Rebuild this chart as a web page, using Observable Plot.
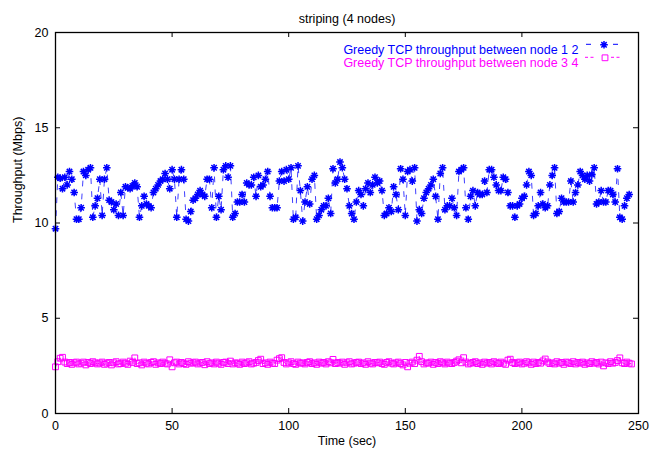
<!DOCTYPE html>
<html>
<head>
<meta charset="utf-8">
<script src="https://cdn.jsdelivr.net/npm/d3@7"></script>
<script src="https://cdn.jsdelivr.net/npm/@observablehq/plot@0.6"></script>
<style>
  html, body { margin: 0; padding: 0; background: #fff; }
  svg { display: block; }
</style>
</head>
<body>
<div id="chart"></div>
<script>
// ---- data ----
const title = "striping (4 nodes)";
const xLabel = "Time (sec)";
const yLabel = "Throughput (Mbps)";
const seriesNames = ["Greedy TCP throughput between node 1 2", "Greedy TCP throughput between node 3 4"];
const seriesColors = ["#0000ff", "#ff00ff"];
const xTicks = [0, 50, 100, 150, 200, 250];
const yTicks = [0, 5, 10, 15, 20];
const sampleInterval = 1; // seconds between samples

const flow12 = [
  9.7, 12.4, 12.35, 11.8, 12.4, 12.0, 12.7, 12.3, 11.6, 10.2,
  10.2, 10.8, 12.7, 12.5, 12.8, 12.9, 10.3, 10.9, 11.3, 12.3,
  10.4, 12.3, 12.9, 11.2, 11.1, 10.7, 11.0, 10.4, 11.6, 10.4,
  11.9, 11.85, 11.8, 11.95, 12.1, 11.9, 10.3, 10.9, 11.4, 11.0,
  10.9, 10.8, 11.6, 11.8, 12.0, 12.2, 12.3, 12.6, 12.3, 11.8,
  12.8, 12.3, 10.3, 12.3, 12.8, 12.3, 10.2, 10.1, 10.6, 11.2,
  11.3, 11.5,
  11.7, 11.5, 11.4, 12.3, 12.3, 10.8, 12.9, 10.3, 11.4, 10.7,
  12.8, 13.0, 12.4, 13.0, 10.3, 10.5, 11.1, 11.1, 11.5, 11.1,
  12.1, 12.0, 12.0, 12.4, 11.4, 12.5, 11.9, 12.0, 12.3, 12.7,
  11.4, 10.8, 10.8, 10.8, 12.2, 12.7, 12.2, 12.8, 12.3, 12.9,
  10.2, 10.3, 13.0, 11.7, 10.1, 11.1, 11.9, 11.0, 12.3, 12.5,
  10.2, 10.4, 10.7, 10.9, 10.9, 11.3, 10.5, 12.85, 12.1, 12.3, 13.2,
  12.9,
  12.3, 11.8, 10.9, 10.5, 10.2, 11.1, 11.7, 11.5, 10.9, 11.8,
  12.1, 11.6, 12.0, 12.4, 12.1, 12.2, 11.7, 10.4, 10.5, 10.8,
  10.6, 11.9, 11.5, 10.7, 12.85, 12.3, 10.4, 12.7, 12.8, 12.2,
  12.9, 10.1, 10.7, 10.5, 11.3, 11.6, 11.8, 12.0, 12.3, 11.4,
  10.2, 12.6, 12.9, 10.7, 10.9, 10.9, 11.3, 10.8, 10.4, 12.7,
  12.8, 12.9, 10.8, 10.2, 11.4, 11.7, 10.9, 11.6, 11.5, 11.5,
  12.2, 11.6, 12.8,
  12.8, 12.4, 12.0, 11.7, 11.7, 12.4, 12.3, 11.6, 10.9, 10.9,
  10.3, 10.9, 11.0, 11.3, 11.4, 12.0, 12.7, 12.5, 10.4, 10.5,
  10.9, 11.6, 11.0, 10.8, 10.9, 12.0, 12.5, 12.9, 10.5, 10.6,
  11.3, 11.1, 11.1, 11.1, 12.2, 11.1, 11.6, 12.0, 12.7, 12.5,
  12.3, 12.5, 12.2, 12.55, 12.9, 11.0, 11.1, 11.7, 11.1, 11.1,
  11.7, 11.7, 11.5, 11.1, 12.85, 10.3, 10.2, 10.9, 11.3, 11.5
];

const flow34 = [
  2.45, 2.72, 2.9, 2.95, 2.7, 2.62, 2.68, 2.58, 2.66, 2.7,
  2.6, 2.64, 2.7, 2.55, 2.68, 2.62, 2.72, 2.66, 2.6, 2.65,
  2.7, 2.58, 2.64, 2.68, 2.55, 2.66, 2.72, 2.6, 2.62, 2.7,
  2.64, 2.58, 2.75, 2.68, 2.92, 2.62, 2.66, 2.55, 2.7, 2.64,
  2.6, 2.68, 2.72, 2.58, 2.66, 2.62, 2.7, 2.64, 2.6, 2.82,
  2.45, 2.66, 2.7, 2.6, 2.68, 2.62, 2.58, 2.72, 2.64, 2.66,
  2.7, 2.6, 2.65, 2.68, 2.56, 2.72, 2.62, 2.66, 2.6, 2.7,
  2.64, 2.58, 2.68, 2.7, 2.62, 2.75, 2.6, 2.66, 2.64, 2.58,
  2.7, 2.62, 2.66, 2.72, 2.6, 2.64, 2.68, 2.78, 2.85, 2.62,
  2.66, 2.58, 2.7, 2.64, 2.62, 2.8, 2.88, 2.93, 2.68, 2.6,
  2.66, 2.72, 2.62, 2.58, 2.7, 2.64, 2.66, 2.6, 2.68, 2.72,
  2.62, 2.66, 2.58, 2.7, 2.64, 2.68, 2.6, 2.72, 2.66, 2.84,
  2.62, 2.68, 2.64, 2.7, 2.58, 2.66, 2.72, 2.6, 2.64, 2.68,
  2.7, 2.62, 2.66, 2.58, 2.72, 2.64, 2.6, 2.68, 2.66, 2.7,
  2.62, 2.58, 2.68, 2.72, 2.64, 2.6, 2.66, 2.7, 2.62, 2.55,
  2.68, 2.45, 2.64, 2.7, 2.62, 2.8, 3.0, 2.72, 2.6, 2.66,
  2.64, 2.7, 2.58, 2.68, 2.62, 2.72, 2.66, 2.6, 2.7, 2.64,
  2.62, 2.68, 2.75, 2.82, 2.66, 2.93, 2.7, 2.6, 2.64, 2.68,
  2.72, 2.62, 2.66, 2.58, 2.7, 2.64, 2.68, 2.6, 2.72, 2.66,
  2.62, 2.7, 2.64, 2.58, 2.8, 2.85, 2.68, 2.62, 2.66, 2.7,
  2.6, 2.64, 2.72, 2.66, 2.58, 2.7, 2.62, 2.68, 2.64, 2.76,
  2.86, 2.7, 2.62, 2.66, 2.6, 2.72, 2.64, 2.68, 2.58, 2.7,
  2.66, 2.62, 2.72, 2.6, 2.68, 2.64, 2.7, 2.58, 2.66, 2.62,
  2.72, 2.64, 2.68, 2.6, 2.7, 2.5, 2.66, 2.62, 2.72, 2.64,
  2.68, 2.78, 2.92, 2.66, 2.62, 2.7, 2.64, 2.6
];

// ---- build tables ----
const rows12 = flow12.map((v, i) => ({t: i * sampleInterval, v}));
const rows34 = flow34.map((v, i) => ({t: i * sampleInterval, v}));

// gnuplot-like point shapes
const asterisk = {
  draw(ctx, size) {
    const r = Math.sqrt(size / Math.PI);
    const d = r * 0.7071;
    ctx.moveTo(-r, 0); ctx.lineTo(r, 0);
    ctx.moveTo(0, -r); ctx.lineTo(0, r);
    ctx.moveTo(-d, -d); ctx.lineTo(d, d);
    ctx.moveTo(-d, d); ctx.lineTo(d, -d);
  }
};
const openSquare = {
  draw(ctx, size) {
    const r = Math.sqrt(size / Math.PI);
    ctx.moveTo(-r, -r); ctx.lineTo(r, -r); ctx.lineTo(r, r); ctx.lineTo(-r, r); ctx.closePath();
  }
};

const W = 660, H = 456, mL = 55, mR = 22, mT = 32, mB = 43;
const frameW = W - mL - mR, frameH = H - mT - mB;
const tick = 5;
const fs = 12.5;
const font = "'Liberation Sans', Arial, Helvetica, sans-serif";
const dash12 = "5,8", dash34 = "3,4";
const leg1 = 12.3, leg2 = 25.3; // legend rows below the frame top

const chart = Plot.plot({
  width: W, height: H,
  marginLeft: mL, marginRight: mR, marginTop: mT, marginBottom: mB,
  x: {domain: [0, 250]},
  y: {domain: [0, 20]},
  style: {fontFamily: font, fontSize: fs + "px", background: "#fff", color: "#000", overflow: "visible"},
  marks: [
    // inward ticks on all four sides
    Plot.ruleX(xTicks, {x: d => d, insetTop: frameH - tick, stroke: "#000", strokeWidth: 1}),
    Plot.ruleX(xTicks, {x: d => d, insetBottom: frameH - tick, stroke: "#000", strokeWidth: 1}),
    Plot.ruleY(yTicks, {y: d => d, insetRight: frameW - tick, stroke: "#000", strokeWidth: 1}),
    Plot.ruleY(yTicks, {y: d => d, insetLeft: frameW - tick, stroke: "#000", strokeWidth: 1}),
    Plot.axisX({ticks: xTicks, tickSize: 0, tickPadding: 8, label: null, fontSize: fs}),
    Plot.axisY({ticks: yTicks, tickSize: 0, tickPadding: 7, label: null, fontSize: fs}),
    // series 1 2
    Plot.line(rows12, {x: "t", y: "v", stroke: seriesColors[0], strokeWidth: 1, strokeDasharray: dash12, strokeOpacity: 0.75}),
    Plot.dot(rows12, {x: "t", y: "v", symbol: asterisk, r: 3.8, stroke: seriesColors[0], fill: "none", strokeWidth: 1.5}),
    // series 3 4
    Plot.line(rows34, {x: "t", y: "v", stroke: seriesColors[1], strokeWidth: 1, strokeDasharray: dash34}),
    Plot.dot(rows34, {x: "t", y: "v", symbol: openSquare, r: 2.9, stroke: seriesColors[1], fill: "none", strokeWidth: 1}),
    Plot.frame({stroke: "#000", strokeWidth: 1.3}),
    // title and axis labels
    Plot.text([title], {frameAnchor: "top", dy: -18, text: d => d, fontSize: fs, fill: "#000"}),
    Plot.text([xLabel], {frameAnchor: "bottom", dy: 31, text: d => d, fontSize: fs, fill: "#000"}),
    Plot.text([yLabel], {frameAnchor: "left", dx: -38, rotate: -90, text: d => d, fontSize: fs, fill: "#000"}),
    // legend text
    Plot.text([seriesNames[0]], {frameAnchor: "top-right", textAnchor: "end", dx: -60, dy: leg1, text: d => d, fill: seriesColors[0], fontSize: fs}),
    Plot.text([seriesNames[1]], {frameAnchor: "top-right", textAnchor: "end", dx: -60, dy: leg2, text: d => d, fill: seriesColors[1], fontSize: fs}),
    Plot.dot([0], {frameAnchor: "top-right", dx: -34.5, dy: leg1, symbol: asterisk, r: 3.8, stroke: seriesColors[0], fill: "none", strokeWidth: 1.5}),
    Plot.dot([0], {frameAnchor: "top-right", dx: -33.5, dy: leg2, symbol: openSquare, r: 2.9, stroke: seriesColors[1], fill: "none", strokeWidth: 1})
  ]
});

// legend line samples (drawn relative to the frame's top-right corner)
const svg = d3.select(chart);
const fr = W - mR;
const g = svg.append("g").attr("stroke-width", 1).attr("fill", "none");
const seg = (x1, x2, y, color, dash) => g.append("line")
  .attr("x1", fr - x1).attr("x2", fr - x2).attr("y1", mT + y).attr("y2", mT + y)
  .attr("stroke", color).attr("stroke-dasharray", dash || null);
seg(52, 47, leg1, seriesColors[0]);
seg(25, 20, leg1, seriesColors[0]);
seg(53, 44, leg2, seriesColors[1], "3,2.5");
seg(27, 18, leg2, seriesColors[1], "3,2.5");

document.getElementById("chart").appendChild(chart);
</script>
</body>
</html>
